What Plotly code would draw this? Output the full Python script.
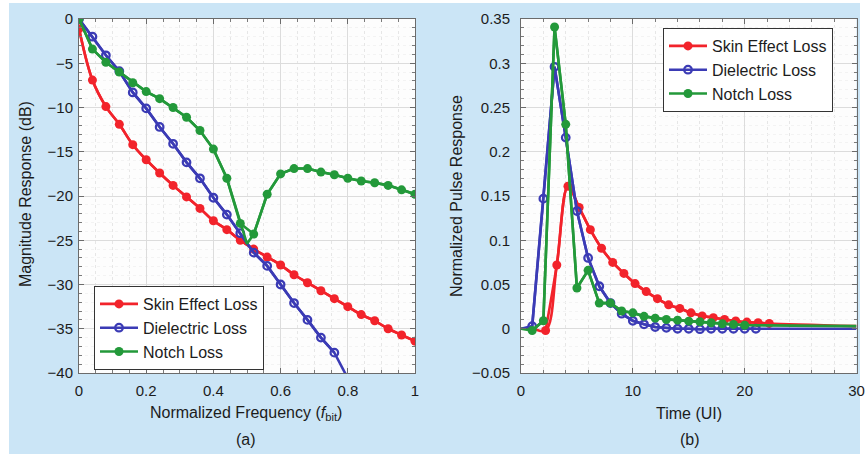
import plotly.graph_objects as go

W, H = 867, 454

# ---------------- data: (a) magnitude response ----------------
freq = [round(0.04 * i, 2) for i in range(26)]
skin_db = [-1.1, -6.9, -9.9, -11.9, -14.2, -15.9, -17.4, -18.8, -20.1, -21.4, -22.8,
           -23.8, -25.0, -26.0, -26.9, -27.8, -28.9, -29.8, -30.7, -31.6, -32.5, -33.4,
           -34.1, -35.0, -35.7, -36.4]
diel_freq = [round(0.04 * i, 2) for i in range(22)]
diel_db = [0.0, -2.0, -4.1, -5.9, -8.3, -10.1, -12.2, -14.1, -16.2, -18.0, -20.2, -22.1,
           -24.2, -26.4, -27.9, -30.0, -32.1, -34.0, -36.0, -37.7, -40.6, -42.8]
notch_db = [0.0, -3.4, -4.9, -6.0, -7.2, -8.2, -9.0, -10.0, -11.1, -12.6, -14.7, -18.0,
            -23.1, -24.3, -19.8, -17.5, -16.9, -16.9, -17.3, -17.6, -18.0, -18.3, -18.5,
            -18.8, -19.3, -19.8]
notch_dip_f, notch_dip_db = 0.50, -25.4   # bottom of the notch (line only)

# ---------------- data: (b) pulse response ----------------
skin_t = [2.2 + i for i in range(21)]
skin_p = [-0.002, 0.072, 0.161, 0.137, 0.112, 0.091, 0.075, 0.0625, 0.051, 0.042, 0.034,
          0.027, 0.023, 0.018, 0.0145, 0.0125, 0.0105, 0.0088, 0.0075, 0.0068, 0.006]
diel_t = [1 + i for i in range(21)]
diel_p = [0.003, 0.147, 0.296, 0.216, 0.133, 0.080, 0.048, 0.029, 0.017, 0.009, 0.005,
          0.002, 0.001, 0.0, 0.0, -0.0005, 0.0, 0.0, 0.0, 0.0, 0.0]
notch_t = [1 + i for i in range(20)]
notch_p = [-0.002, 0.009, 0.341, 0.231, 0.046, 0.066, 0.029, 0.029, 0.020, 0.018, 0.014,
           0.012, 0.0105, 0.0097, 0.0086, 0.0079, 0.0068, 0.0056, 0.0049, 0.004]
t_start, t_end = 0.0, 30.0
skin_tail, diel_tail, notch_tail = 0.003, 0.0, 0.003

names = ["Skin Effect Loss", "Dielectric Loss", "Notch Loss"]
a_xticks = [0, 0.2, 0.4, 0.6, 0.8, 1]
a_xticklabels = ["0", "0.2", "0.4", "0.6", "0.8", "1"]
a_yticks = [0, -5, -10, -15, -20, -25, -30, -35, -40]
a_yticklabels = ["0", "\u22125", "\u221210", "\u221215", "\u221220", "\u221225", "\u221230", "\u221235", "\u221240"]
b_xticks = [0, 10, 20, 30]
b_xticklabels = ["0", "10", "20", "30"]
b_yticks = [0.35, 0.3, 0.25, 0.2, 0.15, 0.1, 0.05, 0, -0.05]
b_yticklabels = ["0.35", "0.3", "0.25", "0.2", "0.15", "0.1", "0.05", "0", "\u22120.05"]

# ---------------- style ----------------
RED, BLUE, GREEN = "#f2232b", "#3b3bb5", "#23993a"
PANEL = "#cbe5f6"
FONT = "Liberation Sans, Arial, sans-serif"
TXT = "#1c1c1c"
LW = 2.6
MS = 9


def px_x(p):
    return p / W


def px_y(p):
    return 1 - p / H


fig = go.Figure()


def add_series(xline, yline, xm, ym, color, name, legend, xa, ya, open_marker=False, shape="linear"):
    fig.add_trace(go.Scatter(x=xline, y=yline, mode="lines", line=dict(color=color, width=LW, shape=shape),
                             showlegend=False, xaxis=xa, yaxis=ya, hoverinfo="skip"))
    if open_marker:
        mk = dict(symbol="circle-open", size=7.5, color=color, line=dict(width=2.3, color=color))
    else:
        mk = dict(symbol="circle", size=MS, color=color, line=dict(width=0))
    fig.add_trace(go.Scatter(x=xm, y=ym, mode="lines+markers", name=name,
                             line=dict(color=color, width=LW, shape=shape), marker=mk,
                             legend=legend, xaxis=xa, yaxis=ya))


# (a)
diel_mx = [f for f, v in zip(diel_freq, diel_db) if v >= -40]
diel_my = [v for v in diel_db if v >= -40]
nl_x = freq[:13] + [notch_dip_f] + freq[13:]
nl_y = notch_db[:13] + [notch_dip_db] + notch_db[13:]
add_series(freq, skin_db, freq, skin_db, RED, names[0], "legend", "x", "y", shape="spline")
add_series(diel_freq, diel_db, diel_mx, diel_my, BLUE, names[1], "legend", "x", "y", open_marker=True)
add_series(nl_x, nl_y, freq, notch_db, GREEN, names[2], "legend", "x", "y")

# (b)
add_series([t_start, 1.0] + skin_t + [t_end], [0.0, 0.0] + skin_p + [skin_tail], skin_t, skin_p,
           RED, names[0], "legend2", "x2", "y2", shape="spline")
add_series([t_start] + diel_t + [t_end], [0.0] + diel_p + [diel_tail], diel_t, diel_p,
           BLUE, names[1], "legend2", "x2", "y2", open_marker=True)
add_series([t_start] + notch_t + [t_end], [0.0] + notch_p + [notch_tail], notch_t, notch_p,
           GREEN, names[2], "legend2", "x2", "y2")

axis_common = dict(showline=True, linecolor="#6b6b6b", linewidth=1, mirror="ticks",
                   ticks="inside", ticklen=5, tickcolor="#6b6b6b", tickwidth=1,
                   showgrid=True, gridcolor="#dcdcdc", gridwidth=1, zeroline=False,
                   tickfont=dict(family=FONT, size=15, color=TXT), automargin=False,
                   tickmode="array")
minor_common = dict(ticks="inside", ticklen=3, tickcolor="#7a7a7a", showgrid=True, griddash="dot")

legend_common = dict(xanchor="left", yanchor="top", bgcolor="white",
                     bordercolor="#333333", borderwidth=1, font=dict(family=FONT, size=16, color=TXT),
                     tracegroupgap=0, itemwidth=38)

fig.update_layout(
    width=W, height=H, autosize=False,
    margin=dict(l=0, r=0, t=0, b=0),
    paper_bgcolor=PANEL, plot_bgcolor="#fdfdfd",
    xaxis=dict(domain=[px_x(79), px_x(415)], range=[0, 1], tickvals=a_xticks, ticktext=a_xticklabels,
               minor=dict(dtick=0.05, gridcolor="#e6e6e6", **minor_common),
               ticklabelstandoff=4, anchor="y", **axis_common),
    yaxis=dict(domain=[px_y(373), px_y(19)], range=[-40, 0], tickvals=a_yticks, ticktext=a_yticklabels,
               minor=dict(dtick=1, gridcolor="#f3f3f3", **minor_common),
               ticklabelstandoff=2, anchor="x", **axis_common),
    xaxis2=dict(domain=[px_x(521), px_x(856.5)], range=[0, 30], tickvals=b_xticks, ticktext=b_xticklabels,
                minor=dict(dtick=2, gridcolor="#e6e6e6", **minor_common),
                ticklabelstandoff=4, anchor="y2", **axis_common),
    yaxis2=dict(domain=[px_y(373), px_y(19)], range=[-0.05, 0.35], tickvals=b_yticks, ticktext=b_yticklabels,
                minor=dict(dtick=0.01, gridcolor="#f3f3f3", **minor_common),
                ticklabelstandoff=7, anchor="x2", **axis_common),
    legend=dict(x=px_x(94), y=px_y(286), entrywidth=170, entrywidthmode="pixels", **legend_common),
    legend2=dict(x=px_x(663), y=px_y(28), entrywidth=175, entrywidthmode="pixels", **legend_common),
    shapes=[
        dict(type="rect", xref="paper", yref="paper", x0=0, x1=px_x(9), y0=0, y1=1,
             fillcolor="white", line=dict(width=0), layer="below"),
        dict(type="rect", xref="paper", yref="paper", x0=px_x(860), x1=1, y0=0, y1=1,
             fillcolor="white", line=dict(width=0), layer="below"),
        dict(type="rect", xref="paper", yref="paper", x0=0, x1=1, y0=px_y(3), y1=1,
             fillcolor="white", line=dict(width=0), layer="below"),
    ],
)

ann = dict(xref="paper", yref="paper", showarrow=False, xanchor="center", yanchor="middle",
           font=dict(family=FONT, size=16, color=TXT))
fig.add_annotation(x=px_x(246), y=px_y(413), text="Normalized Frequency (<i>f</i><sub>bit</sub>)", **ann)
fig.add_annotation(x=px_x(246), y=px_y(439), text="(a)", **ann)
fig.add_annotation(x=px_x(689), y=px_y(413), text="Time (UI)", **ann)
fig.add_annotation(x=px_x(690), y=px_y(439), text="(b)", **ann)
fig.add_annotation(x=px_x(25), y=px_y(194), text="Magnitude Response (dB)", textangle=-90, **ann)
fig.add_annotation(x=px_x(456), y=px_y(196), text="Normalized Pulse Response", textangle=-90, **ann)

fig.write_html("out.html")
